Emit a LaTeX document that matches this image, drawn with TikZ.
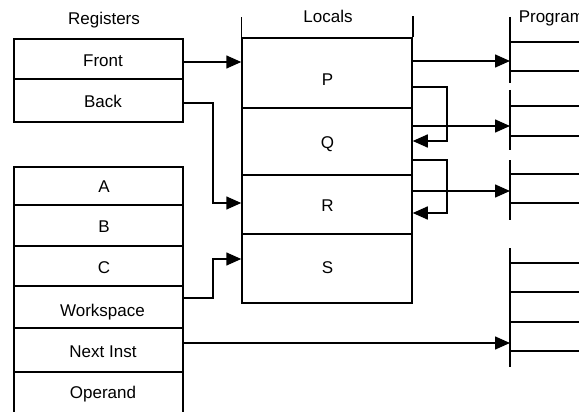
\documentclass[tikz,border=0pt]{standalone}
\usepackage{fontspec}
\setmainfont{Liberation Sans}
\usetikzlibrary{arrows.meta}
\begin{document}
\begin{tikzpicture}[x=1pt,y=-1pt, line width=1.5pt,
  cell/.style={draw, rectangle, inner sep=0pt, line width=1.5pt},
  lbl/.style={font=\fontsize{17}{20}\selectfont, inner sep=0pt, anchor=base},
  arr/.style={-{Triangle[length=15pt,width=13pt]}, line width=1.5pt},
  progline/.style={line width=1.5pt}]
\useasboundingbox (0,0) rectangle (579,412);
\clip (0,0) rectangle (579,412);
% Registers
\node[cell, minimum width=169pt, minimum height=40pt] (cFront) at (98.5,59) {};
\node[cell, minimum width=169pt, minimum height=43pt] (cBack) at (98.5,100.5) {};
\node[cell, minimum width=169pt, minimum height=38pt] (cA) at (98.5,186) {};
\node[cell, minimum width=169pt, minimum height=41pt] (cB) at (98.5,225.5) {};
\node[cell, minimum width=169pt, minimum height=40pt] (cC) at (98.5,266) {};
\node[cell, minimum width=169pt, minimum height=42pt] (cW) at (98.5,307) {};
\node[cell, minimum width=169pt, minimum height=44pt] (cN) at (98.5,350) {};
\node[cell, minimum width=169pt, minimum height=48pt] (cO) at (98.5,396) {};
% Locals
\node[cell, minimum width=170pt, minimum height=70pt] (cP) at (327,73) {};
\node[cell, minimum width=170pt, minimum height=67pt] (cQ) at (327,141.5) {};
\node[cell, minimum width=170pt, minimum height=59pt] (cR) at (327,204.5) {};
\node[cell, minimum width=170pt, minimum height=69pt] (cS) at (327,268.5) {};
\draw (cP.north west) -- ++(0,-20);
\draw (cP.north east) -- ++(0,-21);
% labels
\node[lbl] (tReg) at (104,25) {Registers};
\node[lbl] (tLoc) at (328,23) {Locals};
\node[lbl, anchor=base west] (tProg) at (518,23) {Program};
\node[lbl] (tFront) at (103,66.5) {Front};
\node[lbl] (tBack) at (103,108) {Back};
\node[lbl] (tA) at (104,192) {A};
\node[lbl] (tB) at (104,232) {B};
\node[lbl] (tC) at (104,273) {C};
\node[lbl] (tW) at (102.5,316) {Workspace};
\node[lbl] (tN) at (103,357) {Next Inst};
\node[lbl] (tO) at (103,398) {Operand};
\node[lbl] (tP) at (327.5,85) {P};
\node[lbl] (tQ) at (327.5,148) {Q};
\node[lbl] (tR) at (327.5,211.5) {R};
\node[lbl] (tS) at (327.5,273) {S};
% Program memory lines
\coordinate (pg) at (510,0);
\draw[progline] (510,17) -- (510,83);
\draw[progline] (510,90) -- (510,150);
\draw[progline] (510,160) -- (510,220);
\draw[progline] (510,248) -- (510,367);
\foreach \yy in {42,71,106,136,174,203,263,292,322,351}
  \draw[progline] (510,\yy) -- (585,\yy);
% connectors
\coordinate (f1) at (183,62);
\draw[arr] (f1) -- (f1 -| cP.west);
\coordinate (b1) at (183,103);
\coordinate (b2) at (213,203);
\draw[arr] (b1) -| (b2) -- (b2 -| cR.west);
\coordinate (w1) at (183,298);
\coordinate (w2) at (213,259);
\draw[arr] (w1) -| (w2) -- (w2 -| cS.west);
\coordinate (n1) at (183,343);
\draw[arr] (n1) -- (n1 -| pg);
\coordinate (p1) at (412,61);
\draw[arr] (p1) -- (p1 -| pg);
\coordinate (q1) at (412,126);
\draw[arr] (q1) -- (q1 -| pg);
\coordinate (r1) at (412,191);
\draw[arr] (r1) -- (r1 -| pg);
\coordinate (l1) at (412,87);
\coordinate (l2) at (447,141);
\draw[arr] (l1) -| (l2) -- (l2 -| cQ.east);
\coordinate (l3) at (412,160);
\coordinate (l4) at (447,213);
\draw[arr] (l3) -| (l4) -- (l4 -| cR.east);
\end{tikzpicture}
\end{document}
